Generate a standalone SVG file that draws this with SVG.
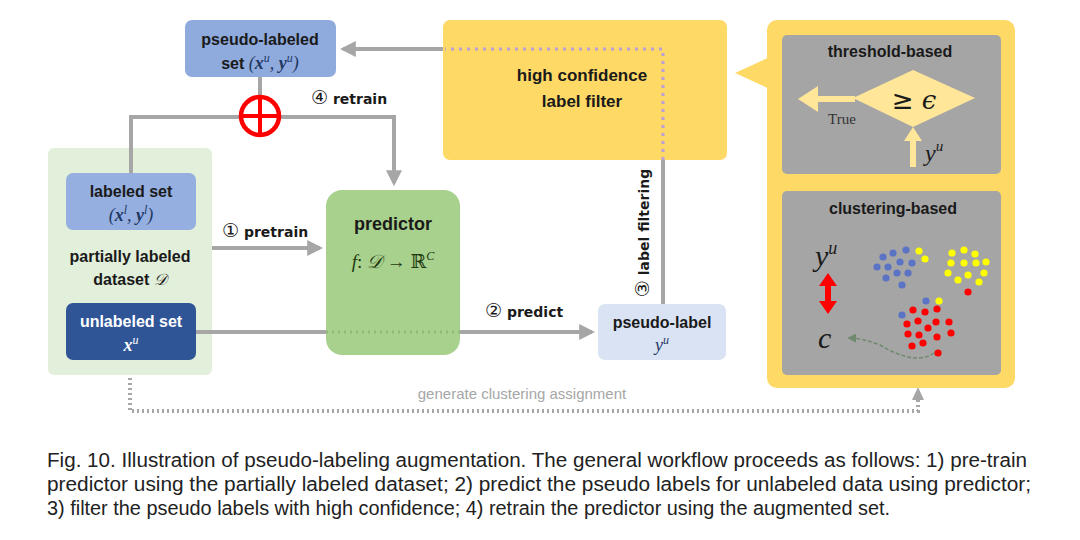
<svg xmlns="http://www.w3.org/2000/svg" width="1080" height="540" viewBox="0 0 1080 540">
<style>
.b{font-family:"Liberation Sans","DejaVu Sans",sans-serif;font-weight:bold;font-size:15px;fill:#1a1a1a}
.lb{font-family:"DejaVu Sans","Liberation Sans",sans-serif;font-weight:bold;font-size:14px;fill:#1a1a1a}
.cd{font-family:"DejaVu Sans",sans-serif;font-weight:normal;font-size:19px}
.m{font-family:"Liberation Serif","DejaVu Serif",serif;font-style:italic;font-size:17px;fill:#1f3864}
.cap{font-family:"Liberation Sans","DejaVu Sans",sans-serif;font-size:20px;fill:#222}
.conn{fill:none;stroke:#a6a6a6;stroke-width:4}
.dot{fill:none;stroke:#a6a6a6;stroke-width:4;stroke-dasharray:2 3}
</style>
<defs>
<marker id="ah" viewBox="0 0 10 10" refX="8" refY="5" markerWidth="4" markerHeight="4" orient="auto" markerUnits="strokeWidth">
<path d="M0,0 L10,5 L0,10 Z" fill="#a6a6a6"/>
</marker>
<marker id="gh" viewBox="0 0 10 10" refX="8" refY="5" markerWidth="6" markerHeight="6" orient="auto" markerUnits="strokeWidth">
<path d="M0,0 L10,5 L0,10 Z" fill="#6f8a6f"/>
</marker>
</defs>
<rect width="1080" height="540" fill="#ffffff"/>

<g id="dataset">
<rect x="48" y="148" width="164" height="227" rx="6" fill="#e2efda"/>
<text class="b" x="130" y="262" text-anchor="middle" style="font-size:16px">partially labeled</text>
<text class="b" x="130" y="285" text-anchor="middle" style="font-size:16px">dataset <tspan font-family="DejaVu Serif, serif" font-style="italic" font-weight="normal">𝒟</tspan></text>
</g>

<g id="labeled-set">
<rect x="66" y="173" width="130" height="57" rx="7" fill="#94afe0"/>
<text class="b" x="131" y="197" text-anchor="middle" style="font-size:16px">labeled set</text>
<text class="m" x="131" y="221" text-anchor="middle" style="font-size:18px">(<tspan font-weight="bold">x</tspan><tspan font-size="12" dy="-7">l</tspan><tspan dy="7">, </tspan><tspan font-weight="bold">y</tspan><tspan font-size="12" dy="-7">l</tspan><tspan dy="7">)</tspan></text>
</g>

<g id="unlabeled-set">
<rect x="66" y="303" width="130" height="57" rx="7" fill="#2f5597"/>
<text class="b" x="131" y="327" text-anchor="middle" style="fill:#ffffff;font-size:16px">unlabeled set</text>
<text class="m" x="131" y="351" text-anchor="middle" style="fill:#ffffff;font-size:18px"><tspan font-weight="bold">x</tspan><tspan font-size="12" dy="-7">u</tspan></text>
</g>

<g id="connectors">
<path class="conn" d="M260,77 V96"/>
<path class="conn" d="M131,173 V117 H394 V183" marker-end="url(#ah)"/>
<path class="conn" d="M212,248 H320" marker-end="url(#ah)"/>
<path class="conn" d="M196,332 H326"/>
<path class="conn" d="M460,332 H592" marker-end="url(#ah)"/>
<path class="conn" d="M663,304 V160"/>
<path class="conn" d="M443,49 H343" marker-end="url(#ah)"/>
<path class="dot" d="M130,378 V411 H918 V396"/>
<path d="M918,387 L912,400 L924,400 Z" fill="#a6a6a6"/>
</g>

<g id="pseudo-labeled-set">
<rect x="185" y="20" width="151" height="57" rx="7" fill="#8faadc"/>
<text class="b" x="260" y="45" text-anchor="middle" style="font-size:16px">pseudo-labeled</text>
<text class="b" x="260" y="69" text-anchor="middle" style="font-size:16px">set <tspan class="m" font-weight="normal" style="font-size:18px">(<tspan font-weight="bold">x</tspan><tspan font-size="12" dy="-7">u</tspan><tspan dy="7">, </tspan><tspan font-weight="bold">y</tspan><tspan font-size="12" dy="-7">u</tspan><tspan dy="7">)</tspan></tspan></text>
</g>

<g id="merge">
<circle cx="260" cy="116" r="19" fill="#ffffff" stroke="#ff0000" stroke-width="4.5"/>
<path d="M260,97 V135 M241,116 H279" stroke="#ff0000" stroke-width="4"/>
</g>

<g id="predictor">
<rect x="326" y="190" width="134" height="165" rx="16" fill="#a9d18e"/>
<path d="M326,332 H460" stroke="#8fb879" stroke-width="3" stroke-dasharray="2 4"/>
<text class="b" x="393" y="230" text-anchor="middle" style="font-size:18px">predictor</text>
<text x="393" y="268" text-anchor="middle" font-family="Liberation Serif, DejaVu Serif, serif" font-size="19" fill="#1e3a10"><tspan font-style="italic">f</tspan>: <tspan font-family="DejaVu Serif, serif" font-style="italic">𝒟</tspan> → <tspan font-family="DejaVu Serif, serif">ℝ</tspan><tspan font-size="12" dy="-8" font-style="italic">C</tspan></text>
</g>

<g id="pseudo-label">
<rect x="598" y="304" width="128" height="56" rx="7" fill="#dae3f3"/>
<text class="b" x="662" y="328" text-anchor="middle" style="font-size:16px">pseudo-label</text>
<text class="m" x="662" y="351" text-anchor="middle" style="font-size:18px">y<tspan font-size="12" dy="-7">u</tspan></text>
</g>

<g id="label-filter">
<rect x="443" y="20" width="284" height="140" rx="7" fill="#ffd966"/>
<path d="M663,160 V49 H445" fill="none" stroke="#b9a0d6" stroke-width="3" stroke-dasharray="3 5"/>
<text class="b" x="582" y="81" text-anchor="middle" style="font-size:17px">high confidence</text>
<text class="b" x="582" y="107" text-anchor="middle" style="font-size:17px">label filter</text>
</g>

<g id="labels">
<text class="lb" x="311" y="104"><tspan class="cd">④</tspan> retrain</text>
<text class="lb" x="222" y="237"><tspan class="cd">①</tspan> pretrain</text>
<text class="lb" x="485" y="317"><tspan class="cd">②</tspan> predict</text>
<text class="lb" x="0" y="0" text-anchor="middle" transform="translate(649,233) rotate(-90)"><tspan class="cd">③</tspan> label filtering</text>
<text x="522" y="399" text-anchor="middle" font-family="Liberation Sans, DejaVu Sans, sans-serif" font-size="15" fill="#a6a6a6">generate clustering assignment</text>
</g>

<g id="methods">
<path d="M735,73 L772,56 L772,90 Z" fill="#ffd966"/>
<rect x="767" y="20" width="248" height="368" rx="10" fill="#ffd966"/>
</g>

<g id="threshold-based">
<rect x="782" y="35" width="219" height="139" rx="5" fill="#a5a5a5"/>
<text class="b" x="890" y="57" text-anchor="middle" style="font-size:16px">threshold-based</text>
<polygon points="853,98 913,70 975,98 913,127" fill="#ffe699"/>
<path d="M855,96 H818 V86 L798,99 L818,112 V102 H855 Z" fill="#ffe699"/>
<path d="M910,167 V141 H904 L913,127 L922,141 H916 V167 Z" fill="#ffe699"/>
<text x="914" y="109" text-anchor="middle" font-family="DejaVu Sans, sans-serif" font-size="26" fill="#1a1a1a">≥ <tspan font-family="DejaVu Serif, serif" font-style="italic">ϵ</tspan></text>
<text x="828" y="124" font-family="Liberation Serif, serif" font-size="15" fill="#333">True</text>
<text x="925" y="161" font-family="Liberation Serif, serif" font-style="italic" font-size="24" fill="#1a1a1a">y<tspan font-size="15" dy="-10">u</tspan></text>
</g>

<g id="clustering-based">
<rect x="782" y="191" width="219" height="184" rx="5" fill="#a5a5a5"/>
<text class="b" x="893" y="214" text-anchor="middle" style="font-size:16px">clustering-based</text>
<text x="815" y="266" font-family="Liberation Serif, serif" font-style="italic" font-size="30" fill="#1a1a1a">y<tspan font-size="18" dy="-12">u</tspan></text>
<path d="M828,273 L837,286 H831 V301 H837 L828,314 L819,301 H825 V286 H819 Z" fill="#ff0000"/>
<text x="818" y="348" font-family="Liberation Serif, serif" font-style="italic" font-size="30" fill="#1a1a1a">c</text>
<path d="M934,353 Q915,366 880,345 Q862,338 849,338" fill="none" stroke="#6f8a6f" stroke-width="1.5" stroke-dasharray="4 2" marker-end="url(#gh)"/>
<g fill="#5b73c4">
<circle cx="883" cy="257" r="3.6"/><circle cx="893" cy="253" r="3.6"/><circle cx="906" cy="250" r="3.6"/><circle cx="877" cy="267" r="3.6"/><circle cx="888" cy="267" r="3.6"/><circle cx="900" cy="262" r="3.6"/><circle cx="912" cy="263" r="3.6"/><circle cx="886" cy="278" r="3.6"/><circle cx="897" cy="273" r="3.6"/><circle cx="908" cy="273" r="3.6"/><circle cx="902" cy="285" r="3.6"/><circle cx="926" cy="301" r="3.6"/><circle cx="902" cy="315" r="3.6"/>
</g>
<g fill="#ffff00">
<circle cx="919" cy="251" r="3.6"/><circle cx="925" cy="259" r="3.6"/><circle cx="952" cy="253" r="3.6"/><circle cx="964" cy="250" r="3.6"/><circle cx="975" cy="254" r="3.6"/><circle cx="951" cy="263" r="3.6"/><circle cx="964" cy="263" r="3.6"/><circle cx="976" cy="263" r="3.6"/><circle cx="986" cy="262" r="3.6"/><circle cx="948" cy="273" r="3.6"/><circle cx="958" cy="280" r="3.6"/><circle cx="968" cy="275" r="3.6"/><circle cx="979" cy="282" r="3.6"/><circle cx="984" cy="273" r="3.6"/><circle cx="939" cy="301" r="3.6"/>
</g>
<g fill="#ff0000">
<circle cx="968" cy="292" r="3.6"/><circle cx="913" cy="310" r="3.6"/><circle cx="925" cy="312" r="3.6"/><circle cx="937" cy="309" r="3.6"/><circle cx="907" cy="324" r="3.6"/><circle cx="918" cy="321" r="3.6"/><circle cx="928" cy="328" r="3.6"/><circle cx="936" cy="322" r="3.6"/><circle cx="949" cy="322" r="3.6"/><circle cx="908" cy="334" r="3.6"/><circle cx="919" cy="335" r="3.6"/><circle cx="937" cy="337" r="3.6"/><circle cx="951" cy="333" r="3.6"/><circle cx="912" cy="346" r="3.6"/><circle cx="923" cy="343" r="3.6"/><circle cx="938" cy="353" r="3.6"/>
</g>
</g>

<g id="caption">
<text class="cap" x="47" y="467" textLength="980" lengthAdjust="spacingAndGlyphs">Fig. 10.  Illustration of pseudo-labeling augmentation. The general workflow proceeds as follows: 1) pre-train</text>
<text class="cap" x="47" y="491" textLength="984" lengthAdjust="spacingAndGlyphs">predictor using the partially labeled dataset; 2) predict the pseudo labels for unlabeled data using predictor;</text>
<text class="cap" x="47" y="515" textLength="843" lengthAdjust="spacingAndGlyphs">3) filter the pseudo labels with high confidence; 4) retrain the predictor using the augmented set.</text>
</g>
</svg>
